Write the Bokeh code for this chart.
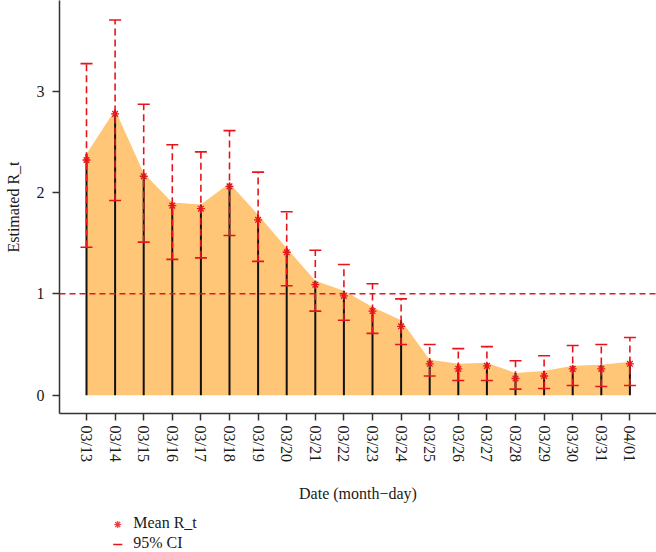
from bokeh.plotting import figure
from bokeh.layouts import column
from bokeh.models import Range1d, FixedTicker, Span, ColumnDataSource
from bokeh.core.properties import value
from bokeh.embed import file_html
from bokeh.resources import INLINE

dates = ["03/13", "03/14", "03/15", "03/16", "03/17", "03/18", "03/19", "03/20",
         "03/21", "03/22", "03/23", "03/24", "03/25", "03/26", "03/27", "03/28",
         "03/29", "03/30", "03/31", "04/01"]
mean_rt = [2.32, 2.775, 2.16, 1.87, 1.84, 2.06, 1.73, 1.41, 1.09, 0.98, 0.83, 0.68,
           0.31, 0.26, 0.29, 0.165, 0.19, 0.26, 0.26, 0.31]
ci_lower = [1.46, 1.92, 1.51, 1.34, 1.355, 1.575, 1.32, 1.08, 0.83, 0.74, 0.61, 0.50,
            0.19, 0.145, 0.145, 0.06, 0.066, 0.096, 0.086, 0.096]
ci_upper = [3.27, 3.70, 2.87, 2.47, 2.40, 2.61, 2.20, 1.81, 1.43, 1.29, 1.10, 0.95,
            0.50, 0.46, 0.48, 0.34, 0.39, 0.49, 0.50, 0.57]
median_rt = [2.38, 2.815, 2.19, 1.90, 1.88, 2.09, 1.78, 1.45, 1.13, 1.03, 0.87, 0.74,
             0.35, 0.31, 0.32, 0.22, 0.24, 0.29, 0.30, 0.33]
threshold = 1
y_ticks = [0, 1, 2, 3]
legend_labels = ["Mean R_t", "95% CI"]

RED = "#E8141B"
ORANGE = "#FFC677"
FONT = "Liberation Serif"
TXT = "#1a1a1a"

idx = list(range(len(dates)))
src = ColumnDataSource(dict(x=idx, mean=mean_rt, lo=ci_lower, hi=ci_upper,
                            med=median_rt, zero=[0] * len(idx)))

p = figure(width=656, height=510, output_backend="svg", toolbar_location=None,
           x_range=Range1d(-0.944, 19.93), y_range=Range1d(-0.18, 3.893),
           min_border_left=59, min_border_right=0, min_border_top=0,
           min_border_bottom=97)
p.outline_line_color = None
p.grid.visible = False

p.varea(x="x", y1="zero", y2="med", source=src, fill_color=ORANGE, fill_alpha=1)
p.segment(x0="x", y0="zero", x1="x", y1="med", source=src, line_color="#111111",
          line_width=2)
p.segment(x0="x", y0="lo", x1="x", y1="hi", source=src, line_color=RED,
          line_width=1.6, line_dash="7 4")
p.scatter(x="x", y="lo", source=src, marker="dash", size=12, line_color=RED,
          line_width=1.6)
p.scatter(x="x", y="hi", source=src, marker="dash", size=12, line_color=RED,
          line_width=1.6)
p.scatter(x="x", y="mean", source=src, marker="asterisk", size=8,
          line_color=RED, line_width=1.3)
p.add_layout(Span(location=threshold, dimension="width", line_color=RED,
                  line_width=1.5, line_dash="6 4"))

for ax in (p.xaxis[0], p.yaxis[0]):
    ax.axis_line_color = "#333333"
    ax.axis_line_width = 1.5
    ax.major_tick_line_color = "#333333"
    ax.major_tick_line_width = 1.5
    ax.major_tick_out = 7
    ax.major_tick_in = 0
    ax.minor_tick_line_color = None
    ax.major_label_text_font = FONT
    ax.major_label_text_font_size = "16px"
    ax.major_label_text_color = TXT
    ax.axis_label_text_font = FONT
    ax.axis_label_text_font_size = "16px"
    ax.axis_label_text_font_style = "normal"
    ax.axis_label_text_color = TXT

p.xaxis.ticker = FixedTicker(ticks=idx)
p.xaxis.major_label_overrides = {i: d for i, d in zip(idx, dates)}
p.xaxis.major_label_orientation = "vertical"
p.xaxis.major_label_standoff = 5
p.xaxis.axis_label = "Date (month\u2212day)"
p.xaxis.axis_label_standoff = 20

p.yaxis.ticker = FixedTicker(ticks=y_ticks)
p.yaxis.major_label_standoff = 8
p.yaxis.axis_label = "Estimated R_t"
p.yaxis.axis_label_standoff = 12

# legend strip below the chart (screen-like coordinates, y downward)
lg = figure(width=656, height=42, output_backend="svg", toolbar_location=None,
            x_range=Range1d(0, 656), y_range=Range1d(42, 0),
            min_border=0, x_axis_type=None, y_axis_type=None)
lg.outline_line_color = None
lg.grid.visible = False
row_y = [12, 32]
lg.scatter(x=[64], y=[row_y[0] + 2], marker="asterisk", size=7,
           line_color="#EE3A3A", line_width=1.2)
lg.segment(x0=[59], y0=[row_y[1] + 2], x1=[69], y1=[row_y[1] + 2],
           line_color=RED, line_width=1.6)
lg.text(x=[81, 81], y=row_y, text=legend_labels, text_font=value(FONT),
        text_font_size="16px", text_baseline="middle", text_align="left",
        text_color=TXT)

layout = column(p, lg, spacing=0)
open("out.html", "w").write(file_html(layout, INLINE))
